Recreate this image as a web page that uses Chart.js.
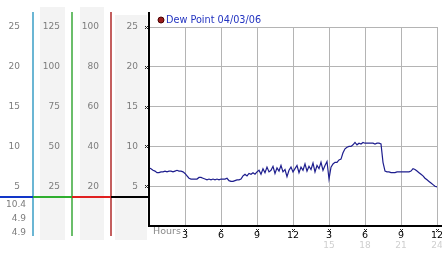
<!DOCTYPE html>
<html>
<head>
<meta charset="utf-8">
<script src="https://cdn.jsdelivr.net/npm/chart.js@4.4.0/dist/chart.umd.min.js"></script>
<style>
  html, body { margin: 0; padding: 0; background: #fff; }
  #wrap { width: 442px; height: 253px; }
</style>
</head>
<body>
<div id="wrap"><canvas id="dewChart" width="442" height="253"></canvas></div>
<script>
const seriesLabel = 'Dew Point 04/03/06';
const stepMinutes = 10;

// one reading every 10 minutes, 00:00 -> 24:00
const dewPoint = [
    7.3, 7.2, 7.0, 6.9, 6.7, 6.7, 6.8, 6.8, 6.9, 6.8, 6.9, 6.9, 6.8, 6.9, 7.0, 6.9, 6.9, 6.8, 6.6,
    6.3, 6.0, 5.9, 5.9, 5.9, 5.9, 6.1, 6.1, 6.0, 5.9, 5.8, 5.9, 5.8, 5.9, 5.8, 5.9, 5.8, 5.9,
    5.9, 5.9, 6.0, 5.7, 5.6, 5.6, 5.7, 5.8, 5.8, 5.9, 6.3, 6.5, 6.3, 6.6, 6.5, 6.7, 6.5, 6.8,
    7.0, 6.5, 7.2, 6.7, 7.4, 6.8, 7.0, 7.5, 6.6, 7.3, 6.9, 7.6, 6.8, 7.1, 6.2, 7.0, 7.4, 6.8,
    7.2, 7.6, 6.7, 7.4, 7.0, 7.8, 6.9, 7.5, 7.1, 7.9, 6.8, 7.6, 7.2, 8.0, 7.0, 7.6, 8.1, 5.9,
    7.4, 7.8, 8.0, 8.0, 8.3, 8.4, 9.2, 9.7, 9.9, 10.0, 10.0, 10.2, 10.5, 10.2, 10.4, 10.3, 10.5, 10.4,
    10.4, 10.4, 10.4, 10.4, 10.3, 10.4, 10.4, 10.3, 8.0, 6.9, 6.8, 6.8, 6.7, 6.7, 6.7, 6.8, 6.8, 6.8,
    6.8, 6.8, 6.8, 6.8, 6.9, 7.2, 7.1, 6.9, 6.7, 6.5, 6.3, 6.0, 5.8, 5.6, 5.4, 5.2, 5.0, 4.9,
];

const hourTicks = [3, 6, 9, 12, 15, 18, 21, 24];
const hourLabels = ['3', '6', '9', '12', '3', '6', '9', '12'];
const clockLabels = ['', '', '', '', '15', '18', '21', '24'];

const mainTicks = [5, 10, 15, 20, 25];
const ticksA = [5, 10, 15, 20, 25];
const ticksB = [25, 50, 75, 100, 125];
const ticksC = [20, 40, 60, 80, 100];

const readouts = ['10.4', '4.9', '4.9'];
const indicatorLevel = 3.6;

const tickFont = { family: 'DejaVu Sans', size: 9 };
const grayText = '#7c7c7c';
const gridGray = '#b4b4b4';

function leftAxis(values, weight, width, pad) {
    return {
        type: 'linear',
        position: 'left',
        weight: weight,
        min: 0,
        max: values[values.length - 1],
        afterBuildTicks: s => { s.ticks = values.map(v => ({ value: v })); },
        afterFit: s => { s.width = width; },
        grid: { display: false, drawTicks: false },
        border: { display: false },
        ticks: { color: grayText, font: tickFont, padding: pad }
    };
}

function marker(ctx, x, y) {
    ctx.fillStyle = '#222';
    ctx.fillRect(x - 1, y - 1, 1, 1);
    ctx.fillRect(x + 1, y - 1, 1, 1);
    ctx.fillRect(x, y, 1, 1);
    ctx.fillRect(x - 1, y + 1, 1, 1);
    ctx.fillRect(x + 1, y + 1, 1, 1);
}

const decor = {
    id: 'decor',
    beforeDraw(chart) {
        const ctx = chart.ctx;
        const { yA, yB, yC, y } = chart.scales;
        ctx.save();
        ctx.fillStyle = '#fff';
        ctx.fillRect(0, 0, chart.width, chart.height);
        ctx.fillStyle = '#f3f3f3';
        ctx.fillRect(yB.left + 7, 7, 25, 233);
        ctx.fillRect(yC.left + 8, 7, 24, 233);
        ctx.fillRect(y.left + 4, 15, 32, 225);
        ctx.restore();
    },
    afterDraw(chart) {
        const ctx = chart.ctx;
        const { yA, yB, yC, y, x } = chart.scales;
        const area = chart.chartArea;
        ctx.save();

        // coloured column rules
        ctx.lineWidth = 1.5;
        [[yA.right, '#3a9ec6'], [yB.right, '#3aa83a'], [yC.right, '#b02a2a']].forEach(([px, c]) => {
            ctx.strokeStyle = c;
            ctx.beginPath();
            ctx.moveTo(px, 12);
            ctx.lineTo(px, 236);
            ctx.stroke();
        });

        // indicator bar
        const yi = Math.round(y.getPixelForValue(indicatorLevel)) ;
        ctx.lineWidth = 2;
        [[0, yA.right, '#1236c8'], [yA.right, yB.right, '#2fae2f'], [yB.right, yC.right, '#e02020'], [yC.right, area.left, '#000']].forEach(([a, b, c]) => {
            ctx.strokeStyle = c;
            ctx.beginPath();
            ctx.moveTo(a, yi);
            ctx.lineTo(b, yi);
            ctx.stroke();
        });

        // axes
        ctx.strokeStyle = '#000';
        ctx.beginPath();
        ctx.moveTo(area.left, 12);
        ctx.lineTo(area.left, area.bottom + 1);
        ctx.moveTo(area.left - 1, area.bottom);
        ctx.lineTo(chart.width, area.bottom);
        ctx.stroke();

        mainTicks.forEach(v => marker(ctx, area.left - 3, Math.round(y.getPixelForValue(v))));
        hourTicks.forEach(h => marker(ctx, Math.round(x.getPixelForValue(h)), area.bottom + 4));

        // readouts under the first column
        ctx.font = '9px "DejaVu Sans"';
        ctx.fillStyle = grayText;
        ctx.textAlign = 'right';
        ctx.textBaseline = 'middle';
        readouts.forEach((t, i) => ctx.fillText(t, yA.right - 7, yi + 8 + i * 14));

        // 24h labels
        ctx.textAlign = 'center';
        ctx.fillStyle = '#cfcfcf';
        hourTicks.forEach((h, i) => {
            if (clockLabels[i]) ctx.fillText(clockLabels[i], x.getPixelForValue(h), area.bottom + 20);
        });

        ctx.textAlign = 'left';
        ctx.fillStyle = '#8a8a8a';
        ctx.font = '9.5px "DejaVu Sans"';
        ctx.fillText('Hours', area.left + 4, area.bottom + 6);

        // legend
        ctx.beginPath();
        ctx.arc(area.left + 12, 20, 3, 0, Math.PI * 2);
        ctx.fillStyle = '#9a1c1c';
        ctx.fill();
        ctx.strokeStyle = '#4a0000';
        ctx.lineWidth = 1;
        ctx.stroke();
        ctx.font = '9.7px "DejaVu Sans"';
        ctx.fillStyle = '#2233c0';
        ctx.fillText(chart.data.datasets[0].label, area.left + 17, 20);

        ctx.restore();
    }
};

const config = {
    type: 'line',
    data: {
        datasets: [{
            label: seriesLabel,
            data: dewPoint.map((v, i) => ({ x: i * stepMinutes / 60, y: v })),
            borderColor: '#1e1e8e',
            borderWidth: 1.2,
            pointRadius: 0,
            tension: 0,
            yAxisID: 'y',
        }]
    },
    options: {
        responsive: false,
        animation: false,
        layout: { padding: { top: 27, right: 5, bottom: 0, left: 0 } },
        plugins: {
            legend: { display: false },
            tooltip: { enabled: false }
        },
        scales: {
            x: {
                type: 'linear',
                min: 0,
                max: 24,
                afterBuildTicks: s => { s.ticks = [0].concat(hourTicks).map(v => ({ value: v })); },
                afterFit: s => { s.height = 27; s.paddingLeft = 0; s.paddingRight = 0; },
                grid: { color: gridGray, drawTicks: false },
                border: { display: false },
                ticks: {
                    color: '#000',
                    font: { family: 'DejaVu Sans', size: 9.5 },
                    padding: 4,
                    maxRotation: 0,
                    autoSkip: false,
                    callback: v => v === 0 ? '' : hourLabels[hourTicks.indexOf(v)]
                }
            },
            y: {
                type: 'linear',
                position: 'left',
                weight: 0,
                min: 0,
                max: 25,
                afterBuildTicks: s => { s.ticks = [0].concat(mainTicks).map(v => ({ value: v })); },
                afterFit: s => { s.width = 38; },
                grid: { color: gridGray, drawTicks: false },
                border: { display: false },
                ticks: { color: grayText, font: tickFont, padding: 11, callback: v => v === 0 ? '' : String(v) }
            },
            yC: leftAxis(ticksC, 1, 39, 12),
            yB: leftAxis(ticksB, 2, 39, 12),
            yA: leftAxis(ticksA, 3, 33, 13),
        }
    },
    plugins: [decor]
};

const dewChart = new Chart(document.getElementById('dewChart'), config);
</script>
</body>
</html>
